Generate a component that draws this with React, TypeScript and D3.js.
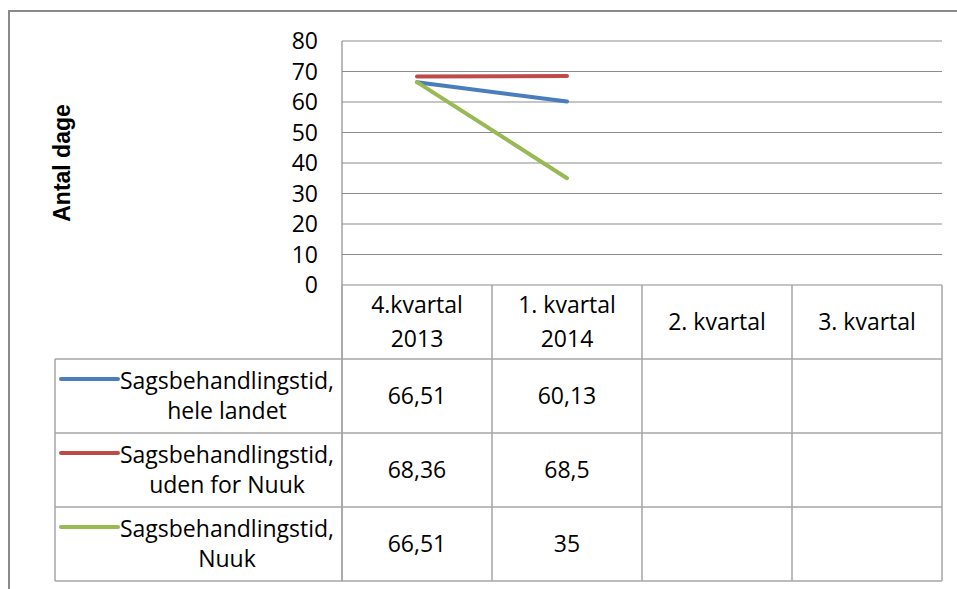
import React from 'react';
import * as d3 from 'd3';

const categories = ['4.kvartal 2013', '1. kvartal 2014', '2. kvartal', '3. kvartal'];
const categoryLines = [['4.kvartal', '2013'], ['1. kvartal', '2014'], ['2. kvartal'], ['3. kvartal']];
const seriesNames = [
  ['Sagsbehandlingstid,', 'hele landet'],
  ['Sagsbehandlingstid,', 'uden for Nuuk'],
  ['Sagsbehandlingstid,', 'Nuuk'],
];
const seriesColors = ['#4a7ebb', '#be4b48', '#98b954'];
const seriesValues: (number | null)[][] = [
  [66.51, 60.13, null, null],
  [68.36, 68.5, null, null],
  [66.51, 35, null, null],
];
const yTicks = [0, 10, 20, 30, 40, 50, 60, 70, 80];

const W = 957;
const H = 589;
const FONT = '"Open Sans", "Noto Sans", sans-serif';

export default function App() {
  const plotLeft = 342;
  const plotRight = 942;
  const tableLeft = 55;

  const x = d3.scaleBand<string>().domain(categories).range([plotLeft, plotRight]);
  const y = d3.scaleLinear().domain([0, 80]).range([285, 41]);
  const rows = d3.scaleBand<string>().domain(['header', '0', '1', '2']).range([285, 581]);

  const line = d3
    .line<number | null>()
    .defined(d => d !== null)
    .x((_, i) => (x(categories[i]) as number) + x.bandwidth() / 2)
    .y(d => y(d as number));

  const fmt = (v: number) => String(v).replace('.', ',');
  const grid = '#8c8c8c';
  const border = '#a6a6a6';
  const fs = 23;

  return (
    <svg width={W} height={H} style={{ position: 'absolute', left: 0, top: 0, background: '#fff' }} fontFamily={FONT}>
      <rect x={0} y={0} width={W} height={H} fill="#fff" />
      {/* outer chart frame */}
      <rect x={9} y={11} width={W + 20} height={H + 20} fill="none" stroke="#8a8a8a" strokeWidth={2} />

      {/* gridlines */}
      {yTicks.map(t => (
        <line key={t} x1={plotLeft} x2={plotRight} y1={y(t)} y2={y(t)} stroke={grid} strokeWidth={1.2} />
      ))}
      <line x1={plotLeft} x2={plotLeft} y1={y(80)} y2={rows.range()[1]} stroke={grid} strokeWidth={1.2} />

      {/* y tick labels */}
      {yTicks.map(t => (
        <text key={t} x={318} y={y(t)} dy="0.36em" textAnchor="end" fontSize={fs} fill="#000">
          {t}
        </text>
      ))}

      <text
        transform={`translate(70,${163}) rotate(-90)`}
        textAnchor="middle"
        fontSize={23}
        fontWeight="bold"
        fontFamily='"Liberation Sans", Arial, sans-serif'
        fill="#000"
      >
        Antal dage
      </text>

      {/* series lines */}
      {seriesValues.map((vals, i) => (
        <path key={i} d={line(vals) || ''} fill="none" stroke={seriesColors[i]} strokeWidth={4} strokeLinecap="round" />
      ))}

      {/* data table */}
      <g stroke={border} strokeWidth={1.5}>
        {categories.map(c => (
          <line key={c} x1={(x(c) as number) + x.bandwidth()} x2={(x(c) as number) + x.bandwidth()} y1={rows('header')} y2={rows.range()[1]} />
        ))}
        {['0', '1', '2'].map(r => (
          <line key={r} x1={tableLeft} x2={plotRight} y1={rows(r)} y2={rows(r)} />
        ))}
        <line x1={tableLeft} x2={plotRight} y1={rows.range()[1]} y2={rows.range()[1]} />
        <line x1={tableLeft} x2={tableLeft} y1={rows('0')} y2={rows.range()[1]} />
        <line x1={plotLeft} x2={plotLeft} y1={rows('header')} y2={rows.range()[1]} />
      </g>

      {categoryLines.map((ls, i) => {
        const cx = (x(categories[i]) as number) + x.bandwidth() / 2;
        const cy = (rows('header') as number) + rows.bandwidth() / 2;
        return (
          <text key={i} x={cx} textAnchor="middle" fontSize={fs} fill="#000">
            {ls.map((l, j) => (
              <tspan key={j} x={cx} y={cy + (j - (ls.length - 1) / 2) * 34} dy="0.36em">
                {l}
              </tspan>
            ))}
          </text>
        );
      })}

      {seriesNames.map((ls, i) => {
        const top = rows(String(i)) as number;
        const mid = top + rows.bandwidth() / 2;
        return (
          <g key={i}>
            <line x1={61} x2={118} y1={mid - 17} y2={mid - 17} stroke={seriesColors[i]} strokeWidth={4} strokeLinecap="round" />
            <text x={227} y={mid - 15} dy="0.36em" textAnchor="middle" fontSize={fs} fill="#000">
              {ls[0]}
            </text>
            <text x={227} y={mid + 15} dy="0.36em" textAnchor="middle" fontSize={fs} fill="#000">
              {ls[1]}
            </text>
            {seriesValues[i].map((v, j) =>
              v === null ? null : (
                <text
                  key={j}
                  x={(x(categories[j]) as number) + x.bandwidth() / 2}
                  y={mid}
                  dy="0.36em"
                  textAnchor="middle"
                  fontSize={fs}
                  fill="#000"
                >
                  {fmt(v)}
                </text>
              )
            )}
          </g>
        );
      })}
    </svg>
  );
}
